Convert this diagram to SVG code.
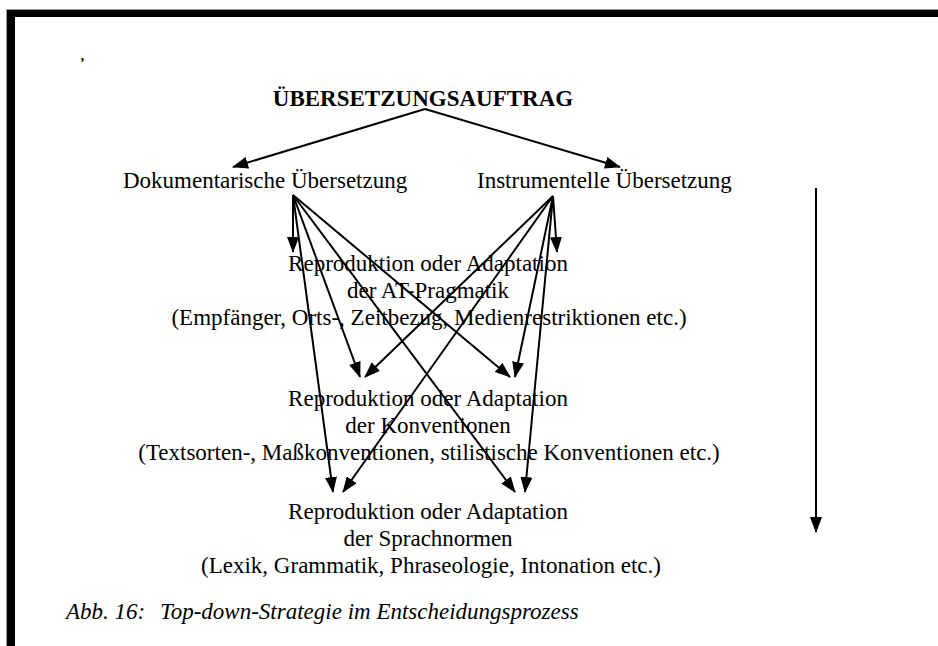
<svg xmlns="http://www.w3.org/2000/svg" width="938" height="646" viewBox="0 0 938 646">
  <style>
    text { font-family: "Liberation Serif", "Times New Roman", serif; font-size: 23px; fill: #000; }
    .title { font-weight: bold; }
    .cap { font-style: italic; }
    .mid { text-anchor: middle; }
    .conn line { stroke: #000; stroke-width: 2; fill: none; marker-end: url(#ah); }
  </style>
  <defs>
    <marker id="ah" viewBox="0 0 16 12" refX="15" refY="6" markerWidth="16" markerHeight="12" markerUnits="userSpaceOnUse" orient="auto">
      <path d="M0,0 L16,6 L0,12 z" fill="#000"/>
    </marker>
  </defs>
  <rect x="0" y="0" width="938" height="646" fill="#fff"/>
  <g id="frame">
    <rect x="6" y="9" width="932" height="1" fill="#999"/>
    <rect x="6" y="9" width="1" height="637" fill="#999"/>
    <rect x="7" y="10" width="931" height="7" fill="#000"/>
    <rect x="7" y="10" width="8" height="636" fill="#000"/>
  </g>
  <text x="80" y="68" style="font-size:14px;font-weight:bold">’</text>
  <g id="auftrag">
    <text class="title mid" x="423" y="106">ÜBERSETZUNGSAUFTRAG</text>
  </g>
  <g id="dokumentarisch">
    <text x="123" y="188">Dokumentarische Übersetzung</text>
  </g>
  <g id="instrumentell">
    <text x="477" y="188">Instrumentelle Übersetzung</text>
  </g>
  <g id="pragmatik">
    <text class="mid" x="428" y="271">Reproduktion oder Adaptation</text>
    <text class="mid" x="428" y="298">der AT-Pragmatik</text>
    <text class="mid" x="429" y="325">(Empfänger, Orts-, Zeitbezug, Medienrestriktionen etc.)</text>
  </g>
  <g id="konventionen">
    <text class="mid" x="428" y="406">Reproduktion oder Adaptation</text>
    <text class="mid" x="428" y="433">der Konventionen</text>
    <text class="mid" x="429" y="460">(Textsorten-, Maßkonventionen, stilistische Konventionen etc.)</text>
  </g>
  <g id="sprachnormen">
    <text class="mid" x="428" y="519">Reproduktion oder Adaptation</text>
    <text class="mid" x="428" y="546">der Sprachnormen</text>
    <text class="mid" x="431" y="573">(Lexik, Grammatik, Phraseologie, Intonation etc.)</text>
  </g>
  <g id="caption">
    <text class="cap" y="619"><tspan x="66">Abb. 16:</tspan><tspan x="160">Top-down-Strategie im Entscheidungsprozess</tspan></text>
  </g>
  <g id="connectors" class="conn">
    <line x1="425" y1="109" x2="233" y2="167"/>
    <line x1="425" y1="109" x2="620" y2="167"/>
    <line x1="293" y1="195" x2="293" y2="252"/>
    <line x1="293" y1="195" x2="360" y2="377"/>
    <line x1="293" y1="195" x2="510" y2="377"/>
    <line x1="293" y1="195" x2="333" y2="492"/>
    <line x1="293" y1="195" x2="515" y2="492"/>
    <line x1="553" y1="196" x2="557" y2="252"/>
    <line x1="553" y1="196" x2="365" y2="377"/>
    <line x1="553" y1="196" x2="515" y2="377"/>
    <line x1="553" y1="196" x2="343" y2="492"/>
    <line x1="553" y1="196" x2="525" y2="492"/>
    <line x1="816" y1="188" x2="816" y2="532"/>
  </g>
</svg>
